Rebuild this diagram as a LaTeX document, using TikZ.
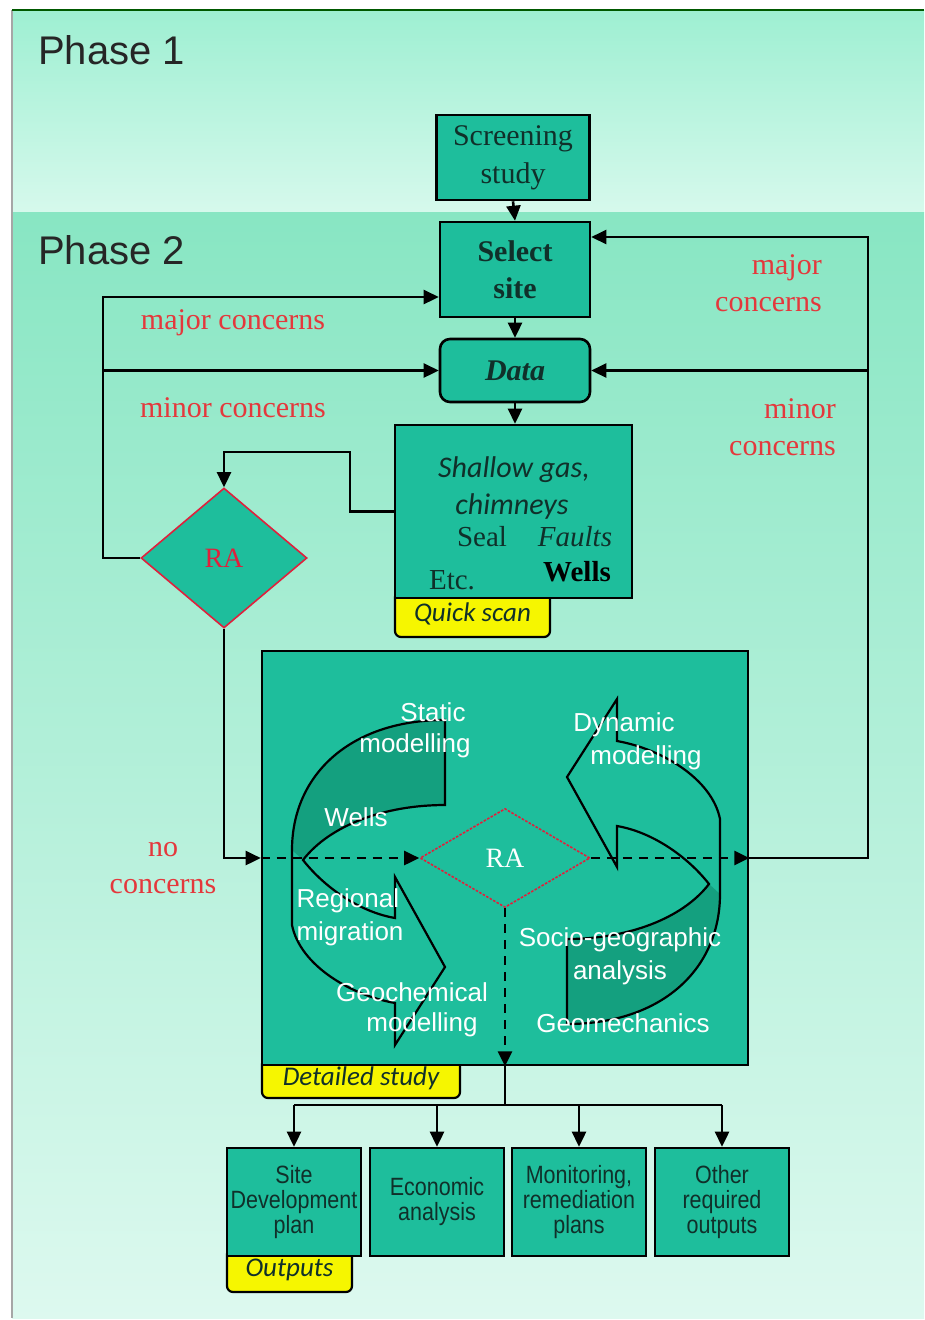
\documentclass[tikz,border=0pt]{standalone}
\usepackage{fontspec}
\setmainfont{Liberation Serif}
\newfontfamily\sansf{Liberation Sans}
\newfontfamily\calib{Carlito}
\newfontfamily\narrowf[FakeStretch=0.86]{Liberation Sans}
\usetikzlibrary{arrows.meta,shapes.geometric}
\definecolor{boxfill}{HTML}{1EBE9C}
\definecolor{bandfill}{HTML}{14A07F}
\definecolor{textdark}{HTML}{10302A}
\definecolor{concernred}{HTML}{E4383C}
\definecolor{rared}{HTML}{E0203C}
\definecolor{tabyellow}{HTML}{F6F600}
\definecolor{phaseatop}{HTML}{9EEFD2}
\definecolor{phaseabot}{HTML}{D6F9EC}
\definecolor{phasebtop}{HTML}{88E6C3}
\definecolor{phasebbot}{HTML}{DDF9EF}
\begin{document}
\begin{tikzpicture}[x=1pt,y=-1pt,
  box/.style={draw=black, line width=2.6pt, fill=boxfill, inner sep=0pt, align=center, text=textdark},
  tab/.style={draw=black, line width=2.2pt, fill=tabyellow, rounded corners=6pt, inner sep=0pt, text=textdark,
              font=\calib\itshape\fontsize{27}{30}\selectfont},
  conn/.style={line width=2.6pt, draw=black},
  arr/.style={conn, -{Triangle[length=15pt,width=14pt]}},
  dashline/.style={dash pattern=on 9pt off 7pt},
  concern/.style={text=concernred, font=\fontsize{30}{37}\selectfont, inner sep=0pt},
  phase/.style={font=\sansf\fontsize{40}{44}\selectfont, text=black!85, inner sep=0pt, anchor=west},
  lab/.style={text=white, font=\sansf\fontsize{26}{33}\selectfont, inner sep=0pt},
  outbox/.style={box, minimum width=134pt, minimum height=108pt, font=\narrowf\fontsize{25}{25}\selectfont},
  radiamond/.style={diamond, inner sep=0pt, fill=boxfill, font=\fontsize{28}{30}\selectfont},
  twirl/.pic={
    % darker underside of the band
    \fill[bandfill] (-61,-152) .. controls (-156,-152) and (-214,-97) .. (-214,-22)
       -- (-203,-12) .. controls (-176,-47) and (-121,-67) .. (-61,-67) -- cycle;
    % outline of the curved arrow
    \draw[line width=2.2pt, line join=miter] (-61,-152) .. controls (-156,-152) and (-214,-97) .. (-214,-22)
       -- (-214,53) .. controls (-206,93) and (-156,123) .. (-111,131)
       -- (-111,173) -- (-61,95) -- (-111,5) -- (-111,46)
       .. controls (-146,40) and (-181,16) .. (-203,-12)
       .. controls (-176,-47) and (-121,-67) .. (-61,-67) -- cycle;
  }]
\useasboundingbox (0,0) rectangle (924,1320);

% page background and the two phase bands
\fill[white] (0,0) rectangle (924,1320);
\shade[top color=phaseatop, bottom color=phaseabot] (12,10) rectangle (924,212);
\shade[top color=phasebtop, bottom color=phasebbot] (12,212) rectangle (924,1318);
\draw[line width=1.2pt, black!35] (12,10) -- (12,1318);
\draw[line width=1.5pt, green!35!black] (12,10) -- (924,10);

\node[phase] (ph1) at (38,50) {Phase 1};
\node[phase] (ph2) at (38,250) {Phase 2};

% tabs sit under the boxes they label
\node[tab, minimum width=155pt, minimum height=46pt] (qstab) at (472.5,614) {Quick scan};
\node[tab, minimum width=198pt, minimum height=40pt] (dstab) at (361,1078) {Detailed study};
\node[tab, minimum width=125pt, minimum height=44pt] (outtab) at (289.5,1270) {Outputs};

% main boxes
\node[box, minimum width=153pt, minimum height=85pt, font=\fontsize{30}{38}\selectfont] (scr) at (513,157.5) {Screening\\study};
\node[box, minimum width=150pt, minimum height=95pt, font=\bfseries\fontsize{30}{37}\selectfont] (sel) at (515,269.5) {Select\\site};
\node[box, rounded corners=10pt, minimum width=150pt, minimum height=63pt, font=\bfseries\itshape\fontsize{30}{36}\selectfont] (data) at (515,370.5) {Data};
\node[box, minimum width=237pt, minimum height=173pt] (qs) at (513.5,511.5) {};
\node[box, minimum width=486pt, minimum height=414pt] (ds) at (505,858) {};

% quick scan contents
\node[inner sep=0pt, text=textdark, font=\calib\itshape\fontsize{30}{34}\selectfont] (qs1) at (514,470) {Shallow gas,};
\node[inner sep=0pt, text=textdark, font=\calib\itshape\fontsize{30}{34}\selectfont] (qs2) at (512,506) {chimneys};
\node[inner sep=0pt, text=textdark, font=\fontsize{29}{32}\selectfont] (qs3) at (482,537) {Seal};
\node[inner sep=0pt, text=textdark, font=\itshape\fontsize{29}{32}\selectfont] (qs4) at (575,537) {Faults};
\node[inner sep=0pt, text=textdark, font=\fontsize{29}{32}\selectfont] (qs5) at (452,580) {Etc.};
\node[inner sep=0pt, text=black, font=\bfseries\fontsize{29}{32}\selectfont] (qs6) at (577,572) {Wells};

% risk assessment diamonds
\node[radiamond, draw=rared, line width=1.6pt, text=rared, minimum width=166pt, minimum height=140pt] (ra1) at (224,558) {RA};

% curved arrows of the detailed study
\pic at (506,872) {twirl};
\pic[rotate=180] at (506,872) {twirl};

\node[radiamond, draw=rared, line width=1.6pt, dash pattern=on 2.5pt off 1.5pt, text=white, minimum width=170pt, minimum height=99pt] (ra2) at (505,858) {RA};

% output boxes
\node[outbox] (o1) at (294,1202) {Site\\Development\\plan};
\node[outbox] (o2) at (437,1202) {Economic\\analysis};
\node[outbox] (o3) at (579,1202) {Monitoring,\\remediation\\plans};
\node[outbox] (o4) at (722,1202) {Other\\required\\outputs};

% main flow
\draw[arr] (scr.south) -- (sel.north);
\draw[arr] (sel.south) -- (data.north);
\draw[arr] (data.south) -- (data.south |- qs.north);
\coordinate (k1) at (350,452);
\draw[arr] (qs.west) -| (k1) -| (ra1.north);

% left feedback loop
\coordinate (lx) at (103,297);
\draw[arr] (ra1.west) -| (lx) -- (lx -| sel.west);
\draw[arr] (lx |- data.west) -- (data.west);

% no concerns into the detailed study
\draw[arr] (ra1.south) |- (ds.west);
\draw[arr, dashline] (ds.west) -- (ra2.west);
\draw[arr, dashline] (ra2.east) -- (ds.east);
\draw[arr, dashline] (ra2.south) -- (ds.south);

% right feedback loop
\coordinate (rx) at (868,237);
\draw[arr] (ds.east) -| (rx) -- (rx -| sel.east);
\draw[arr] (rx |- data.east) -- (data.east);

% fan out to the outputs
\coordinate (bj) at (505,1105);
\draw[conn] (ds.south) -- (bj);
\draw[conn] (o1.north |- bj) -- (o4.north |- bj);
\draw[arr] (o1.north |- bj) -- (o1.north);
\draw[arr] (o2.north |- bj) -- (o2.north);
\draw[arr] (o3.north |- bj) -- (o3.north);
\draw[arr] (o4.north |- bj) -- (o4.north);

% feedback labels
\node[concern] (cmaj1) at (233,323) {major concerns};
\node[concern] (cmin1) at (233,408) {minor concerns};
\node[concern, align=right, anchor=east] (cmaj2) at (822,283) {major\\concerns};
\node[concern, align=right, anchor=east] (cmin2) at (836,427) {minor\\concerns};
\node[concern, align=center] (cno) at (163,868) {no\\concerns};

% detailed study labels
\node[lab] (l1) at (433,712) {Static};
\node[lab] (l2) at (415,746) {modelling};
\node[lab] (l3) at (356,817) {Wells};
\node[lab, align=left] (l4) at (350,917) {Regional\\migration};
\node[lab] (l5) at (412,992) {Geochemical};
\node[lab] (l6) at (422,1025) {modelling};
\node[lab] (l7) at (624,725) {Dynamic};
\node[lab] (l8) at (646,758) {modelling};
\node[lab] (l9) at (620,940) {Socio-geographic};
\node[lab] (l10) at (620,973) {analysis};
\node[lab] (l11) at (623,1023) {Geomechanics};
\end{tikzpicture}
\end{document}
